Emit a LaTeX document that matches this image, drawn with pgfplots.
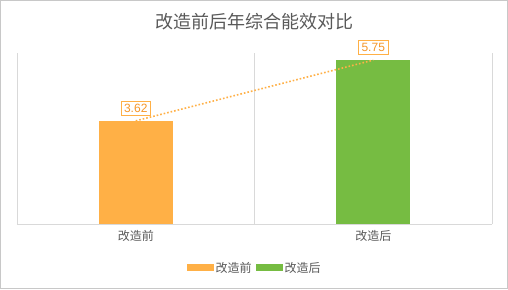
\documentclass[border=0pt]{standalone}
\usepackage{pgfplots}
\pgfplotsset{compat=1.18}
\usepackage{fontspec}
\setmainfont{Noto Sans CJK SC}
\newfontfamily\numfont{Liberation Sans}
\definecolor{barorange}{RGB}{255,176,70}
\definecolor{bargreen}{RGB}{118,188,66}
\definecolor{lblorange}{RGB}{245,150,40}
\definecolor{txtgray}{RGB}{89,89,89}
\definecolor{gridgray}{RGB}{217,217,217}
\definecolor{framegray}{RGB}{200,200,200}
\begin{document}
\begin{tikzpicture}
\useasboundingbox (0,0) rectangle (508pt,289pt);
\fill[white] (0,0) rectangle (508pt,289pt);
\draw[framegray] (0.5pt,0.5pt) rectangle (507.5pt,288.5pt);
\node[text=txtgray, font=\fontsize{18}{20}\selectfont] at (254pt,267pt) {改造前后年综合能效对比};
\begin{axis}[
  at={(17pt,65pt)}, anchor=south west,
  scale only axis, width=475pt, height=171pt,
  xmin=-0.5, xmax=1.5, ymin=0, ymax=6,
  hide y axis,
  axis x line*=bottom,
  x axis line style={gridgray, -},
  xtick={0,1}, xticklabels={改造前,改造后},
  major tick length=0pt,
  minor xtick={-0.5,0.5,1.5},
  minor x grid style={gridgray},
  xminorgrids=true,
  minor tick length=0pt,
  xticklabel style={text=txtgray, font=\fontsize{12}{14}\selectfont, yshift=-3pt},
  bar width=0.31,
  /pgf/number format/assume math mode=true,
  /pgf/number format/fixed, /pgf/number format/precision=2,
  legend style={at={(0.5,-0.257)}, anchor=center, draw=none, legend columns=2,
    font=\fontsize{12}{14}\selectfont, text=txtgray,
    /tikz/every even column/.append style={column sep=2pt}},
  legend image code/.code={\fill[#1] (0pt,-3.5pt) rectangle (27pt,3.5pt);},
]
\addplot[ybar, fill=barorange, draw=none, bar shift=0pt] coordinates {(0,3.62)};
\addlegendentry{改造前}
\addplot[ybar, fill=bargreen, draw=none, bar shift=0pt] coordinates {(1,5.75)};
\addlegendentry{改造后}
\addplot[sharp plot, barorange, line width=1.6pt, dotted, forget plot,
  nodes near coords,
  every node near coord/.append style={draw=barorange, fill=white, text=lblorange,
    font=\numfont\fontsize{12}{14}\selectfont, inner sep=3pt, anchor=south, yshift=5pt, solid, line width=0.8pt}]
  coordinates {(0,3.62) (1,5.75)};
\end{axis}
\end{tikzpicture}
\end{document}
